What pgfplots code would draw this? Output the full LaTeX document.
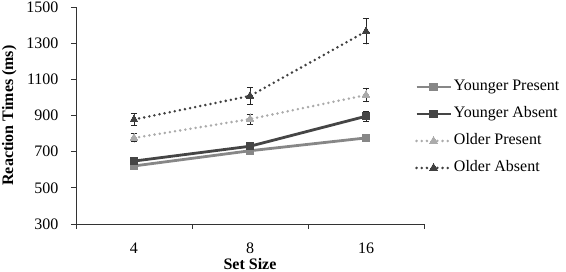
\documentclass[border=0pt]{standalone}
\usepackage{pgfplots}
\pgfplotsset{compat=1.18}
\usepackage{fontspec}
\setmainfont{Liberation Serif}[Scale=1.6]
\definecolor{yp}{HTML}{878787}
\definecolor{ya}{HTML}{454545}
\definecolor{op}{HTML}{ABABAB}
\definecolor{oa}{HTML}{404040}
\begin{document}
\begin{tikzpicture}
\begin{axis}[
  name=ax,
  scale only axis,
  width=348pt, height=217pt,
  xmin=-0.5, xmax=2.5,
  ymin=300, ymax=1500,
  ytick={300,500,...,1500},
  xtick={0,1,2},
  xticklabels={4,8,16},
  minor xtick={-0.5,0.5,1.5,2.5},
  major x tick style={draw=none},
  tick align=outside,
  major tick length=5pt,
  minor tick length=5pt,
  every tick/.style={line width=0.9pt, color=black!80},
  axis x line*=bottom,
  axis y line*=left,
  axis line style={line width=0.9pt, color=black!80, -},
  /pgf/number format/assume math mode=true,
  /pgf/number format/1000 sep={},
  ylabel={\bfseries Reaction Times (ms)},
  xlabel={\bfseries Set Size},
  ylabel style={at={(axis description cs:0,0.5)}, anchor=south, yshift=54pt},
  xlabel style={at={(axis description cs:0.5,0)}, anchor=north, yshift=-29pt},
  yticklabel style={xshift=-7pt},
  xticklabel style={yshift=-8pt},
  legend style={draw=none, fill=none, at={(0.974,0.445)}, anchor=west,
    row sep=8.5pt, inner sep=0pt,
    nodes={inner xsep=2pt, inner ysep=2pt, text height=11pt, text depth=3.5pt}},
  legend cell align=left,
  legend image code/.code={\draw[mark repeat=2,mark phase=2] plot coordinates {(0pt,0pt) (17pt,0pt) (34pt,0pt)};},
  error bars/y dir=both, error bars/y explicit,
  error bars/error bar style={line width=0.9pt, color=black!85, solid},
  error bars/error mark options={rotate=90, mark size=3.2pt, line width=0.9pt, color=black!85, solid},
]
\addplot[color=yp, line width=2.8pt, mark=square*, mark size=3.6pt, mark options={solid, line width=0pt}]
  coordinates {(0,621) +- (0,12) (1,705) +- (0,13) (2,776) +- (0,16)};
\addlegendentry{Younger Present}
\addplot[color=ya, line width=2.8pt, mark=square*, mark size=3.6pt, mark options={solid, line width=0pt}]
  coordinates {(0,648) +- (0,14) (1,730) +- (0,17) (2,896) +- (0,27)};
\addlegendentry{Younger Absent}
\addplot[color=op, line width=2.8pt, line cap=round, dash pattern=on 0pt off 5.2pt, mark=triangle*, mark size=4.6pt, mark options={solid, line width=0pt}]
  coordinates {(0,776) +- (0,22) (1,880) +- (0,28) (2,1013) +- (0,37)};
\addlegendentry{Older Present}
\addplot[color=oa, line width=2.8pt, line cap=round, dash pattern=on 0pt off 5.2pt, mark=triangle*, mark size=4.6pt, mark options={solid, line width=0pt}]
  coordinates {(0,878) +- (0,33) (1,1008) +- (0,45) (2,1365) +- (0,69)};
\addlegendentry{Older Absent}
\end{axis}
\pgfresetboundingbox
\path[use as bounding box] ([xshift=-76pt,yshift=-48pt]ax.south west) rectangle ([xshift=142pt,yshift=7pt]ax.north east);
\end{tikzpicture}
\end{document}
